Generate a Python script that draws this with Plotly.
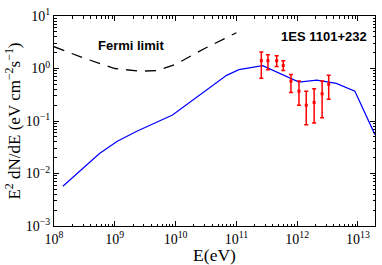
import plotly.graph_objects as go

# Model curve (blue)
model_E = [1.4e8, 5.6e8, 1.1e9, 2.3e9, 8.9e9, 6.9e10, 1.1e11, 2.7e11, 1.07e12, 2.1e12, 4.4e12, 8.9e12, 1.9e13]
model_F = [0.0057, 0.024, 0.041, 0.064, 0.13, 0.74, 0.95, 1.13, 0.55, 0.60, 0.52, 0.37, 0.055]

# Fermi limit (dashed)
fermi_E = [1e8, 3e8, 1e9, 2.5e9, 5e9, 1e10, 3e10, 1e11]
fermi_F = [2.6, 1.6, 1.0, 0.89, 0.91, 1.2, 2.4, 4.8]

# Observed points (red)
obs_E = [2.57e11, 3.3e11, 4.6e11, 5.9e11, 7.9e11, 1.07e12, 1.41e12, 1.9e12, 2.57e12, 3.3e12]
obs_F = [1.41, 1.41, 1.41, 1.14, 0.575, 0.37, 0.20, 0.225, 0.33, 0.50]
obs_up = [2.07, 1.82, 1.74, 1.41, 0.77, 0.575, 0.37, 0.41, 0.575, 0.74]
obs_lo = [0.65, 0.95, 1.09, 0.92, 0.35, 0.20, 0.085, 0.092, 0.115, 0.26]

# Tick labels
x_tickvals = [1e8, 1e9, 1e10, 1e11, 1e12, 1e13]
x_ticktext = ["10<sup>8</sup>", "10<sup>9</sup>", "10<sup>10</sup>", "10<sup>11</sup>", "10<sup>12</sup>", "10<sup>13</sup>"]
y_tickvals = [1e-3, 1e-2, 1e-1, 1e0, 1e1]
y_ticktext = ["10<sup>−3</sup>", "10<sup>−2</sup>", "10<sup>−1</sup>", "10<sup>0</sup>", "10<sup>1</sup>"]

err_plus = [u - f for u, f in zip(obs_up, obs_F)]
err_minus = [f - l for f, l in zip(obs_F, obs_lo)]

def minor_vals(decades):
    return [m * 10.0 ** d for d in decades for m in range(2, 10)]

fig = go.Figure()
fig.add_trace(go.Scatter(x=fermi_E, y=fermi_F, mode="lines",
                         line=dict(color="black", width=1.3, dash="11px,8px"),
                         showlegend=False))
fig.add_trace(go.Scatter(x=model_E, y=model_F, mode="lines",
                         line=dict(color="#0000ff", width=1.2), showlegend=False))
fig.add_trace(go.Scatter(x=obs_E, y=obs_F, mode="markers",
                         marker=dict(color="red", size=3, symbol="square"),
                         error_y=dict(type="data", symmetric=False, array=err_plus,
                                      arrayminus=err_minus, color="red", thickness=1.5, width=2),
                         showlegend=False))

fig.add_annotation(x=9.26, y=0.43, xref="x", yref="y", text="<b>Fermi limit</b>",
                   showarrow=False, font=dict(family="Liberation Sans", size=13, color="black"))
fig.add_annotation(x=12.44, y=0.61, xref="x", yref="y", text="<b>1ES 1101+232</b>",
                   showarrow=False, font=dict(family="Liberation Sans", size=13, color="black"))

axis_common = dict(type="log", showgrid=False, zeroline=False, showline=True,
                   linecolor="black", linewidth=1, mirror="ticks", ticks="inside",
                   ticklen=5, tickcolor="black", tickwidth=0.8,
                   tickfont=dict(family="Liberation Serif", size=14, color="black"))

fig.update_xaxes(range=[8, 13.28], tickvals=x_tickvals, ticktext=x_ticktext,
                 minor=dict(tickvals=minor_vals(range(8, 14)), ticks="inside", ticklen=2.5,
                            tickwidth=0.7, tickcolor="black", showgrid=False),
                 title=dict(text="E(eV)", standoff=0,
                 font=dict(family="Liberation Serif", size=17.5, color="black")), **axis_common)
fig.update_yaxes(range=[-3, 1], tickvals=y_tickvals, ticktext=y_ticktext,
                 minor=dict(tickvals=minor_vals(range(-3, 1)), ticks="inside", ticklen=2.5,
                            tickwidth=0.7, tickcolor="black", showgrid=False),
                 title=dict(text="E<sup>2</sup> dN/dE (eV cm<sup>−2</sup>s<sup>−1</sup>)", standoff=0,
                 font=dict(family="Liberation Serif", size=17, color="black")), **axis_common)

fig.update_layout(width=382, height=265, margin=dict(l=54, r=6, t=11, b=38),
                  paper_bgcolor="white", plot_bgcolor="white")

fig.write_html("out.html", config={"displayModeBar": False},
               post_script="document.body.style.margin='0';")
